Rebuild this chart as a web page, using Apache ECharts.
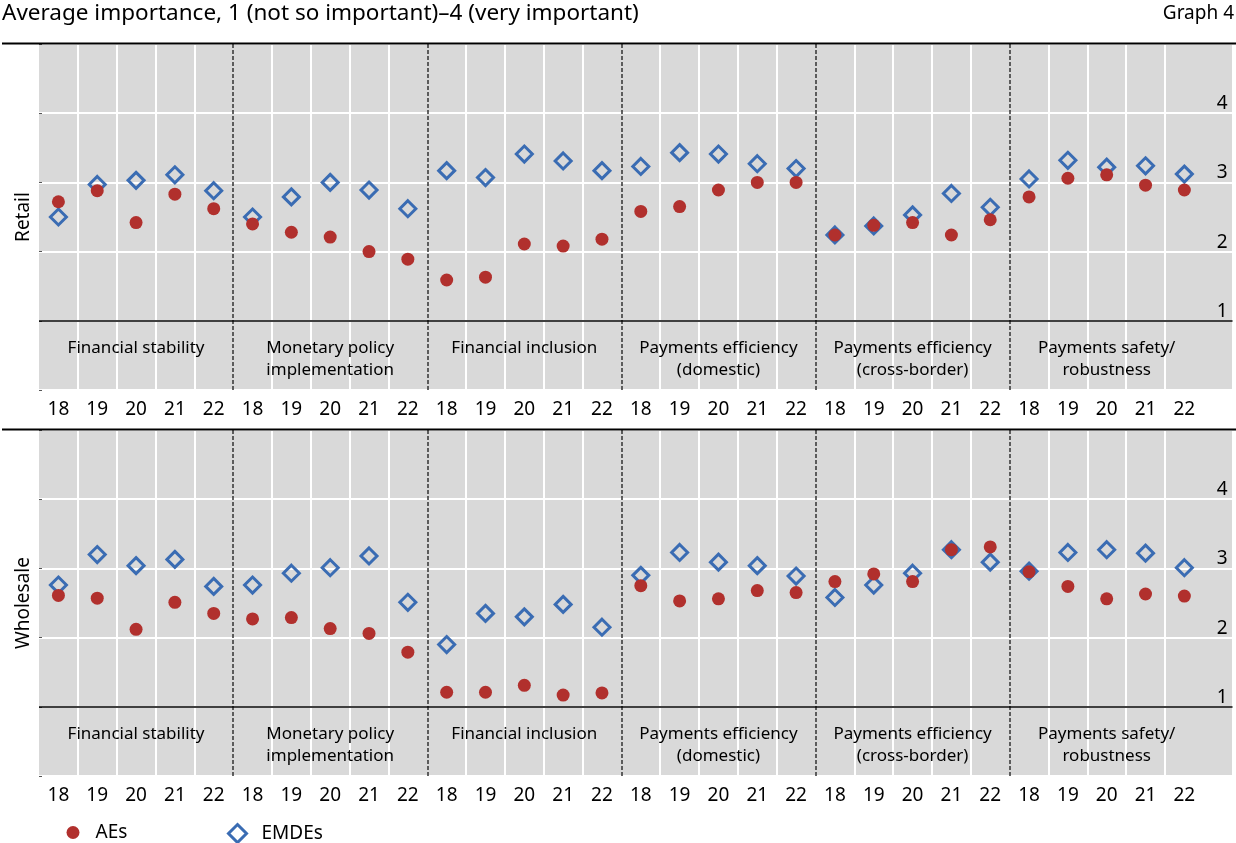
<!DOCTYPE html>
<html>
<head>
<meta charset="utf-8">
<script src="https://cdn.jsdelivr.net/npm/echarts@6/dist/echarts.min.js"></script>
<style>
html,body{margin:0;padding:0;background:#fff;}
#chart{width:1236px;height:843px;}
</style>
</head>
<body>
<div id="chart"></div>
<script>
// ---- data ----
const years = ['18', '19', '20', '21', '22'];
const groups = ['Financial stability', 'Monetary policy\nimplementation', 'Financial inclusion',
  'Payments efficiency\n(domestic)', 'Payments efficiency\n(cross-border)', 'Payments safety/\nrobustness'];
const yTickLabels = [1, 2, 3, 4];
const panelNames = ['Retail', 'Wholesale'];
const seriesNames = ['AEs', 'EMDEs'];

const retailAEs = [2.72, 2.88, 2.42, 2.83, 2.62, 2.40, 2.28, 2.21, 2.00, 1.89,
  1.59, 1.63, 2.11, 2.08, 2.18, 2.58, 2.65, 2.89, 3.00, 3.00,
  2.24, 2.38, 2.42, 2.24, 2.46, 2.79, 3.06, 3.11, 2.96, 2.89];
const retailEMDEs = [2.50, 2.97, 3.03, 3.11, 2.88, 2.50, 2.79, 3.00, 2.89, 2.62,
  3.17, 3.07, 3.41, 3.31, 3.17, 3.23, 3.43, 3.41, 3.27, 3.20,
  2.24, 2.37, 2.53, 2.84, 2.64, 3.05, 3.32, 3.22, 3.24, 3.12];
const wholesaleAEs = [2.61, 2.57, 2.12, 2.51, 2.35, 2.27, 2.29, 2.13, 2.06, 1.79,
  1.21, 1.21, 1.31, 1.17, 1.20, 2.75, 2.53, 2.56, 2.68, 2.65,
  2.81, 2.92, 2.81, 3.27, 3.31, 2.95, 2.74, 2.56, 2.63, 2.60];
const wholesaleEMDEs = [2.76, 3.20, 3.04, 3.13, 2.74, 2.76, 2.93, 3.01, 3.18, 2.51,
  1.90, 2.35, 2.30, 2.48, 2.15, 2.90, 3.23, 3.09, 3.04, 2.89,
  2.58, 2.76, 2.93, 3.27, 3.09, 2.96, 3.23, 3.27, 3.22, 3.01];

// ---- styling ----
const FONT = 'Noto Sans';
const RED = '#b1302d';
const BLUE = '#3a6cb3';
const GRAY = '#d9d9d9';
const X_MAX = 30.74;
const nCats = groups.length * years.length;

const yearPos = [];
for (let i = 0; i < nCats; i++) yearPos.push(i + 0.5);
const groupPos = groups.map((g, i) => i * years.length + years.length / 2);
const boundaries = [];
for (let i = 1; i < groups.length; i++) boundaries.push(i * years.length);

const toPoints = arr => arr.map((v, i) => [i + 0.5, v]);

const panels = [
  { name: panelNames[0], aes: retailAEs, emdes: retailEMDEs, top: 44 },
  { name: panelNames[1], aes: wholesaleAEs, emdes: wholesaleEMDEs, top: 430 }
];

const grid = [], xAxis = [], yAxis = [], series = [], graphic = [];
panels.forEach((p, k) => {
  grid.push({ left: 39, width: 1193.5, top: p.top, height: 346, show: true, backgroundColor: GRAY, borderWidth: 0 });
  xAxis.push({
    gridIndex: k, type: 'value', min: 0, max: X_MAX, interval: 1,
    axisLine: { show: false }, axisTick: { show: false },
    splitLine: { show: true, showMinLine: true, lineStyle: { color: ['rgba(0,0,0,0)', '#fff', '#fff', '#fff', '#fff'], width: 2 } },
    axisLabel: {
      customValues: yearPos, formatter: v => years[Math.floor(v) % years.length],
      fontSize: 19, color: '#000', margin: 10, fontFamily: FONT
    }
  });
  xAxis.push({
    gridIndex: k, type: 'value', min: 0, max: X_MAX, position: 'bottom', offset: -69.2,
    axisLine: { show: false }, axisTick: { show: false }, splitLine: { show: false },
    axisLabel: {
      customValues: groupPos, formatter: v => groups[Math.floor(v / years.length)],
      fontSize: 17, lineHeight: 22, verticalAlign: 'top', margin: 16, color: '#000', fontFamily: FONT
    }
  });
  yAxis.push({
    gridIndex: k, type: 'value', min: 0, max: 5, interval: 1, position: 'right',
    axisLine: { show: false },
    axisTick: { show: true, length: 3, lineStyle: { color: '#555' } },
    splitLine: { show: true, lineStyle: { color: '#fff', width: 2 } },
    axisLabel: {
      inside: true, customValues: yTickLabels, fontSize: 19, color: '#000',
      verticalAlign: 'bottom', margin: 5, fontFamily: FONT
    }
  });
  yAxis.push({
    gridIndex: k, type: 'value', min: 0, max: 5, position: 'left',
    name: p.name, nameLocation: 'middle', nameGap: 6, nameRotate: 90,
    nameTextStyle: { fontSize: 19, color: '#000', fontFamily: FONT },
    axisLine: { show: false }, axisTick: { show: false }, axisLabel: { show: false }, splitLine: { show: false }
  });
  series.push({
    name: seriesNames[1], type: 'scatter', xAxisIndex: 2 * k, yAxisIndex: 2 * k,
    data: toPoints(p.emdes), symbol: 'diamond', symbolSize: 16, symbolKeepAspect: true,
    itemStyle: { color: 'rgba(0,0,0,0)', borderColor: BLUE, borderWidth: 3, opacity: 1 },
    z: 3,
    markLine: {
      silent: true, symbol: ['none', 'none'], label: { show: false }, animation: false,
      data: boundaries.map(b => ({ xAxis: b, lineStyle: { color: '#333', type: [4, 2], width: 1.5 } }))
        .concat([{ yAxis: 1, lineStyle: { color: '#000', type: 'solid', width: 1.5 } }])
    }
  });
  series.push({
    name: seriesNames[0], type: 'scatter', xAxisIndex: 2 * k, yAxisIndex: 2 * k,
    data: toPoints(p.aes), symbol: 'circle', symbolSize: 13,
    itemStyle: { color: RED, opacity: 1 }, z: 4
  });
  graphic.push({
    type: 'line', shape: { x1: 2, y1: p.top - 0.5, x2: 1236, y2: p.top - 0.5 },
    style: { stroke: '#000', lineWidth: 2 }, z: 10
  });
});

const chart = echarts.init(document.getElementById('chart'), null, { renderer: 'canvas' });
chart.setOption({
  animation: false,
  backgroundColor: '#fff',
  textStyle: { fontFamily: FONT },
  title: [
    { text: 'Average importance, 1 (not so important)\u20134 (very important)', left: 2, top: 2, padding: 0,
      textStyle: { fontSize: 22.5, fontWeight: 'normal', color: '#000', fontFamily: FONT } },
    { text: 'Graph 4', right: 2, top: 4, padding: 0,
      textStyle: { fontSize: 19, fontWeight: 'normal', color: '#000', fontFamily: FONT } }
  ],
  legend: [
    { data: [seriesNames[0]], left: 66.5, top: 823, itemWidth: 13, itemHeight: 13, padding: 0,
      textStyle: { fontSize: 19, color: '#000', fontFamily: FONT, padding: [0, 0, 0, 11] }, selectedMode: false },
    { data: [seriesNames[1]], left: 227, top: 823, itemWidth: 18, itemHeight: 18, padding: 0,
      itemStyle: { borderWidth: 3 },
      textStyle: { fontSize: 19, color: '#000', fontFamily: FONT, padding: [0, 0, 0, 10] }, selectedMode: false }
  ],
  grid, xAxis, yAxis, series, graphic
});
</script>
</body>
</html>
